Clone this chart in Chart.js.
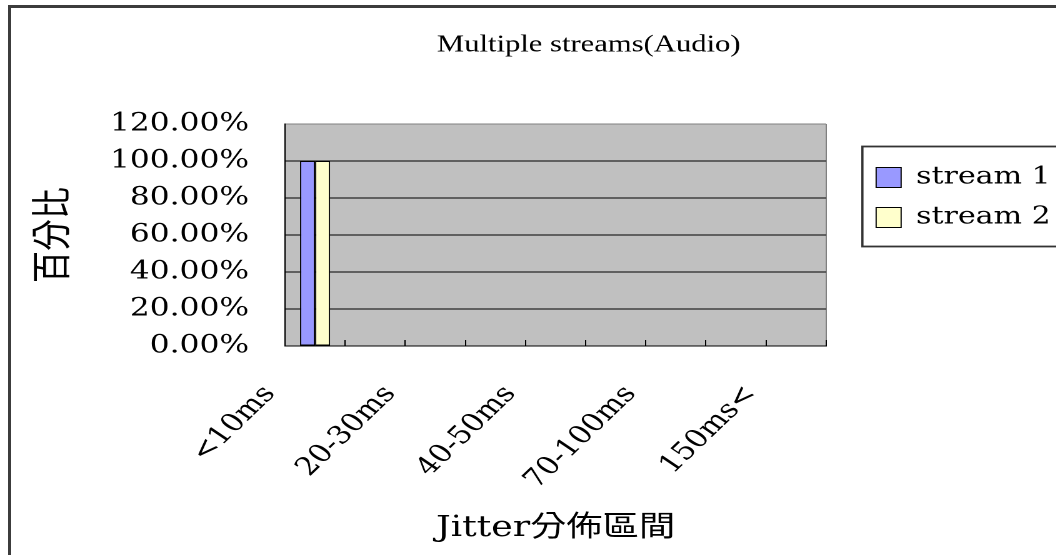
<!DOCTYPE html>
<html><head><meta charset="utf-8">
<script src="https://cdn.jsdelivr.net/npm/chart.js@4.4.1/dist/chart.umd.min.js"></script>
<style>
html,body{margin:0;padding:0;width:1056px;height:555px;overflow:hidden;background:#fff;}
#frame{position:absolute;left:8px;top:5px;width:2000px;height:2000px;border-left:3px solid #3c3c3c;border-top:3px solid #3c3c3c;}
#wrap{position:absolute;left:0;top:0;transform:scaleX(1.25);transform-origin:0 0;}
</style></head><body>
<div id="frame"></div>
<div id="wrap"><canvas id="c" width="870" height="555"></canvas></div>
<script>
const categories = ['<10ms','10-20ms','20-30ms','30-40ms','40-50ms','50-70ms','70-100ms','100-150ms','150ms<'];
const stream1 = [100, 0, 0, 0, 0, 0, 0, 0, 0];
const stream2 = [100, 0, 0, 0, 0, 0, 0, 0, 0];
const seriesNames = ['stream 1', 'stream 2'];
const seriesColors = ['#9999ff', '#ffffcc'];
const yMin = 0, yMax = 120, yStep = 20;
const chartTitle = 'Multiple streams(Audio)';
const xTitle = 'Jitter分佈區間';
const yTitle = '百分比';

const serif = '"DejaVu Serif", "Noto Sans CJK TC", serif';

const plotBg = {
  id: 'plotBg',
  beforeDraw(chart) {
    const {ctx, chartArea: a} = chart;
    ctx.save();
    ctx.fillStyle = '#c0c0c0';
    ctx.fillRect(a.left, a.top, a.width, a.height);
    ctx.restore();
  }
};
const legendFrame = {
  id: 'legendFrame',
  afterDraw(chart) {
    const lg = chart.legend;
    const hb = lg && lg.legendHitBoxes;
    if (!hb || !hb.length) return;
    const ctx = chart.ctx;
    const first = hb[0], last = hb[hb.length - 1];
    const x = first.left - 11, y = first.top - 19;
    const b = last.top + last.height + 17;
    ctx.save();
    ctx.strokeStyle = '#333';
    ctx.lineWidth = 1.8;
    ctx.strokeRect(x, y, chart.width + 60 - x, b - y);
    ctx.restore();
  }
};

new Chart(document.getElementById('c'), {
  type: 'bar',
  data: {
    labels: categories,
    datasets: [
      {label: seriesNames[0], data: stream1, backgroundColor: seriesColors[0], borderColor: '#000', borderWidth: 1, borderSkipped: false},
      {label: seriesNames[1], data: stream2, backgroundColor: seriesColors[1], borderColor: '#000', borderWidth: 1, borderSkipped: false}
    ]
  },
  plugins: [plotBg, legendFrame],
  options: {
    responsive: false,
    animation: false,
    devicePixelRatio: 2,
    layout: {padding: {left: 91.5, right: 19.5, top: 0, bottom: 0}},
    datasets: {bar: {categoryPercentage: 0.5, barPercentage: 1}},
    plugins: {
      tooltip: {enabled: false},
      title: {
        display: true, text: chartTitle, color: '#000',
        font: {family: '"Liberation Serif", serif', size: 24.5, weight: 'normal'},
        padding: {top: 30.3, bottom: 64.3}
      },
      legend: {
        position: 'right', align: 'start', fullSize: false,
        title: {display: true, text: '', font: {size: 10}, padding: {top: 13.5, bottom: 0}},
        labels: {
          color: '#000', boxWidth: 20, boxHeight: 20, padding: 16,
          font: {family: serif, size: 24}
        }
      }
    },
    scales: {
      x: {
        offset: true,
        grid: {offset: true, drawOnChartArea: true, drawTicks: true, tickLength: -6,
          color: (c) => c.type === 'scale' ? '#808080' : 'rgba(0,0,0,0)', tickColor: '#000'},
        border: {display: true, color: '#000', width: 1},
        ticks: {
          autoSkip: false, maxRotation: 50, minRotation: 50, color: '#000',
          font: {family: serif, size: 25}, padding: 40, labelOffset: -36,
          callback: function(v, i) { return i % 2 === 0 ? this.getLabelForValue(v) : ''; }
        },
        title: {display: true, text: xTitle, color: '#000', font: {family: serif, size: 29}, padding: {top: 0, bottom: 9}},
        afterFit(s) { s.height = 209; }
      },
      y: {
        min: yMin, max: yMax,
        grid: {drawTicks: false, color: (c) => c.tick && c.tick.value >= yMax ? '#808080' : '#000', lineWidth: 1},
        border: {display: true, color: '#000', width: 1},
        ticks: {stepSize: yStep, color: '#000', mirror: true, crossAlign: 'far', padding: -140,
          font: {family: serif, size: 25},
          callback: (v) => Number(v).toFixed(2) + '%'},
        title: {display: true, text: yTitle, color: '#000', font: {family: serif, size: 32}, padding: {top: -66.7, bottom: 0}},
        afterFit(s) { s.width = 136.5; }
      },
      yr: {
        position: 'right', display: false, min: 0, max: 1,
        afterFit(s) { s.width = 24; }
      }
    }
  }
});
</script>
</body></html>
